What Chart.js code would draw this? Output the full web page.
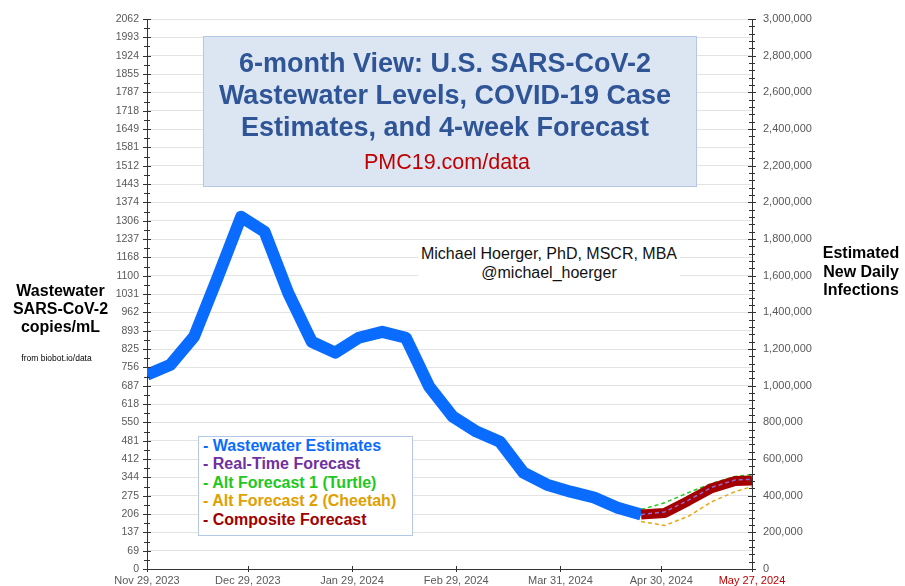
<!DOCTYPE html>
<html>
<head>
<meta charset="utf-8">
<script src="https://cdn.jsdelivr.net/npm/chart.js@4.4.1/dist/chart.umd.min.js"></script>
<style>
  body { margin: 0; background: #fff; font-family: "Liberation Sans", Arial, sans-serif; }
  #wrap { position: relative; width: 905px; height: 586px; overflow: hidden; }
  #chart { position: absolute; left: 0; top: 0; }
  .txt { position: absolute; white-space: nowrap; text-align: center; }
  #titleBox { position: absolute; left: 203px; top: 36px; width: 492px; height: 149px;
    background: #dce6f2; border: 1px solid #b4c7e7; }
  #title { left: 195px; width: 500px; top: 47px; font-size: 27px; font-weight: bold;
    line-height: 32px; color: #2f5597; }
  #site { left: 247px; width: 400px; top: 150px; font-size: 21.5px; color: #c00000; }
  #author { left: 418px; width: 262px; top: 244px; font-size: 16px; line-height: 19px;
    color: #111; background: #fff; padding: 0 0 2px 0; }
  #leftLabel { left: 0; width: 121px; top: 282px; font-size: 16px; font-weight: bold; line-height: 18px; color: #000; }
  #source { left: 0; width: 113px; top: 353px; font-size: 8.5px; color: #000; }
  #rightLabel { left: 812px; width: 98px; top: 244px; font-size: 16px; font-weight: bold; line-height: 18.5px; color: #000; }
  #legendBox { position: absolute; left: 198px; top: 436px; width: 213px; height: 98px;
    background: #fff; border: 1px solid #b4c7e7; }
  #legend { left: 203px; top: 437px; text-align: left; font-size: 16px; font-weight: bold; line-height: 18.4px; }
</style>
</head>
<body>
<div id="wrap">
  <canvas id="chart" width="905" height="586"></canvas>
  <div id="titleBox"></div>
  <div class="txt" id="title">6-month View: U.S. SARS-CoV-2<br>Wastewater Levels, COVID-19 Case<br>Estimates, and 4-week Forecast</div>
  <div class="txt" id="site">PMC19.com/data</div>
  <div class="txt" id="author">Michael Hoerger, PhD, MSCR, MBA<br>@michael_hoerger</div>
  <div class="txt" id="leftLabel">Wastewater<br>SARS-CoV-2<br>copies/mL</div>
  <div class="txt" id="source">from biobot.io/data</div>
  <div class="txt" id="rightLabel">Estimated<br>New Daily<br>Infections</div>
  <div id="legendBox"></div>
  <div class="txt" id="legend">
    <div style="color:#0a6cff">- Wastewater Estimates</div>
    <div style="color:#7030a0">- Real-Time Forecast</div>
    <div style="color:#1ec81e">- Alt Forecast 1 (Turtle)</div>
    <div style="color:#e0a000">- Alt Forecast 2 (Cheetah)</div>
    <div style="color:#a00000">- Composite Forecast</div>
  </div>
</div>
<script>
// === Data (x = days since Nov 29, 2023) ===
const weekDays = [0, 7, 14, 21, 28, 35, 42, 49, 56, 63, 70, 77, 84, 91, 98, 105, 112, 119, 126, 133, 140, 147];
const wastewater = [728, 766, 871, 1092, 1320, 1264, 1035, 852, 811, 867, 889, 867, 683, 571, 515, 477, 361, 316, 290, 268, 230, 204];

const forecastDays = [147, 154, 161, 168, 175, 180];
const realTime = [204, 214, 257, 306, 334, 336];
const turtle = [223, 248, 286, 321, 347, 354];
const cheetah = [178, 163, 197, 252, 290, 309];
const composite = [204, 210, 255, 303, 330, 332];

const xTickDays = [0, 30, 61, 92, 123, 153, 180];
const xTickLabels = ["Nov 29, 2023", "Dec 29, 2023", "Jan 29, 2024", "Feb 29, 2024", "Mar 31, 2024", "Apr 30, 2024", "May 27, 2024"];

const leftMax = 2061.6;
const leftTickLabels = ["0", "69", "137", "206", "275", "344", "412", "481", "550", "618", "687", "756", "825", "893", "962",
  "1031", "1100", "1168", "1237", "1306", "1374", "1443", "1512", "1581", "1649", "1718", "1787", "1855", "1924", "1993", "2062"];

const rightMax = 3000000;
const rightTickLabels = ["0", "200,000", "400,000", "600,000", "800,000", "1,000,000", "1,200,000", "1,400,000",
  "1,600,000", "1,800,000", "2,000,000", "2,200,000", "2,400,000", "2,600,000", "2,800,000", "3,000,000"];

const toPoints = (xs, ys) => xs.map((x, i) => ({ x: x, y: ys[i] }));

// fixed axis size, no extra label padding pushed into the layout
const fixSize = (w, h) => s => {
  if (w != null) s.width = w;
  if (h != null) s.height = h;
  s.paddingTop = 0; s.paddingBottom = 0; s.paddingLeft = 0; s.paddingRight = 0;
};

// === Axis tick marks (major + minor crosses) ===
const axisTicks = {
  id: "axisTicks",
  afterDraw(chart) {
    const { ctx, chartArea, scales } = chart;
    const L = chartArea.left, R = chartArea.right, B = chartArea.bottom;
    ctx.save();
    ctx.strokeStyle = "#333";
    ctx.lineWidth = 1;
    const seg = (x1, y1, x2, y2) => { ctx.beginPath(); ctx.moveTo(x1, y1); ctx.lineTo(x2, y2); ctx.stroke(); };
    for (let i = 0; i <= 60; i++) {
      const py = Math.round(scales.y.getPixelForValue(i * leftMax / 60)) + 0.5;
      const len = i % 2 ? 3 : 4;
      seg(L - len, py, L + len, py);
    }
    for (let i = 0; i <= 75; i++) {
      const py = Math.round(scales.y2.getPixelForValue(i * rightMax / 75)) + 0.5;
      const len = i % 5 ? 3 : 4;
      seg(R - len, py, R + len, py);
    }
    xTickDays.forEach(d => {
      const px = Math.round(scales.x.getPixelForValue(d)) + 0.5;
      seg(px, B - 3, px, B + 3);
    });
    ctx.restore();
  }
};

new Chart(document.getElementById("chart").getContext("2d"), {
  type: "line",
  data: {
    datasets: [
      { label: "Real-Time Forecast", data: toPoints(forecastDays, realTime), borderColor: "#8f6ad8",
        borderWidth: 1.5, borderDash: [4, 3], order: 0 },
      { label: "Composite Forecast", data: toPoints(forecastDays, composite), borderColor: "#a50000",
        borderWidth: 10, order: 1 },
      { label: "Alt Forecast 1 (Turtle)", data: toPoints(forecastDays, turtle), borderColor: "#22c822",
        borderWidth: 1.5, borderDash: [4, 3], order: 2 },
      { label: "Alt Forecast 2 (Cheetah)", data: toPoints(forecastDays, cheetah), borderColor: "#e6a817",
        borderWidth: 1.5, borderDash: [4, 3], order: 3 },
      { label: "Wastewater Estimates", data: toPoints(weekDays, wastewater), borderColor: "#0a6cff",
        borderWidth: 12, order: 4 }
    ]
  },
  options: {
    responsive: false,
    animation: false,
    devicePixelRatio: 1,
    layout: { padding: { top: 19, left: 0, right: 0, bottom: 0 } },
    elements: {
      point: { radius: 0 },
      line: { tension: 0, borderJoinStyle: "round", borderCapStyle: "butt", fill: false }
    },
    plugins: { legend: { display: false }, tooltip: { enabled: false } },
    scales: {
      x: {
        type: "linear", min: 0, max: 180,
        afterBuildTicks: s => { s.ticks = xTickDays.map(v => ({ value: v })); },
        afterFit: fixSize(null, 17),
        ticks: {
          callback: (v, i) => xTickLabels[i],
          color: ctx => ctx.index === xTickLabels.length - 1 ? "#c00000" : "#595959",
          font: { family: "Liberation Sans", size: 11 },
          padding: 5, maxRotation: 0, autoSkip: false
        },
        grid: { display: false, drawTicks: false },
        border: { color: "#333" }
      },
      y: {
        position: "left", min: 0, max: leftMax,
        afterBuildTicks: s => { s.ticks = leftTickLabels.map((t, i) => ({ value: i * leftMax / 30 })); },
        afterFit: fixSize(147, null),
        ticks: {
          callback: (v, i) => leftTickLabels[i],
          color: "#595959",
          font: { family: "Liberation Sans", size: 10.5 },
          padding: 8, autoSkip: false
        },
        grid: { color: "#e3e3e3", drawTicks: false },
        border: { color: "#333" }
      },
      y2: {
        position: "right", min: 0, max: rightMax,
        afterBuildTicks: s => { s.ticks = rightTickLabels.map((t, i) => ({ value: i * 200000 })); },
        afterFit: fixSize(153, null),
        ticks: {
          callback: (v, i) => rightTickLabels[i],
          color: "#595959",
          font: { family: "Liberation Sans", size: 11 },
          padding: 11, autoSkip: false
        },
        grid: { drawOnChartArea: false, drawTicks: false },
        border: { color: "#333" }
      }
    }
  },
  plugins: [axisTicks]
});
</script>
</body>
</html>
